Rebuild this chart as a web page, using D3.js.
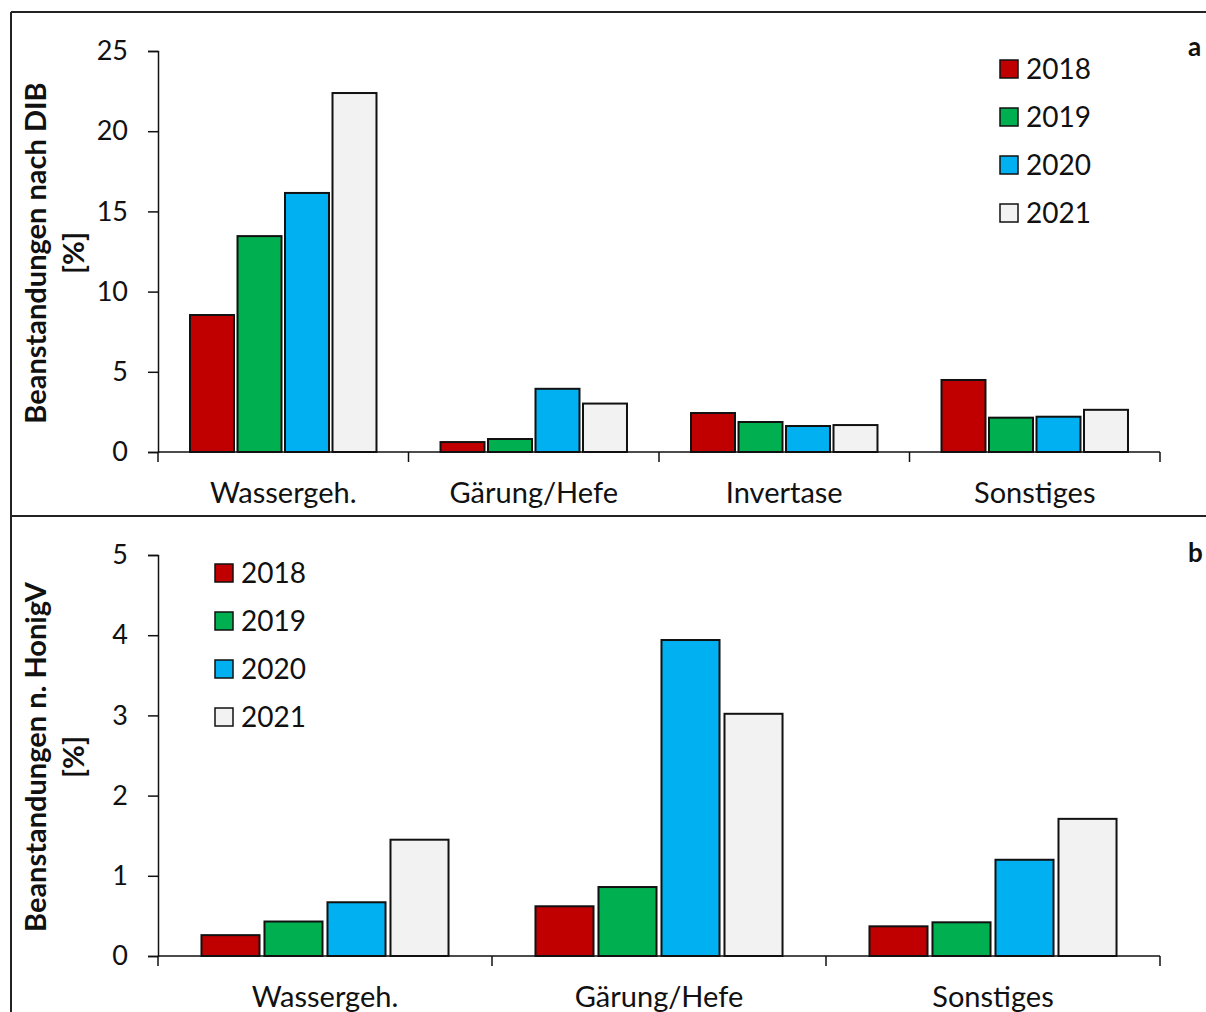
<!DOCTYPE html>
<html>
<head>
<meta charset="utf-8">
<script src="https://cdn.jsdelivr.net/npm/d3@7"></script>
<style>
  body { margin: 0; background: #fff; }
  svg { font-family: Lato, "Open Sans", sans-serif; }
</style>
</head>
<body>
<div id="chart"></div>
<script>
const years = ['2018', '2019', '2020', '2021']
const colors = ['#c00000', '#00b050', '#00b0f0', '#f2f2f2']

// panel a: DIB
const catsA = ['Wassergeh.', 'Gärung/Hefe', 'Invertase', 'Sonstiges']
const valsA = [
    [8.54, 13.46, 16.15, 22.38],
    [0.62, 0.81, 3.94, 3.02],
    [2.43, 1.87, 1.62, 1.68],
    [4.49, 2.14, 2.2, 2.63]
]
const ticksA = [0, 5, 10, 15, 20, 25]

// panel b: HonigV
const catsB = ['Wassergeh.', 'Gärung/Hefe', 'Sonstiges']
const valsB = [
    [0.26, 0.43, 0.67, 1.45],
    [0.62, 0.86, 3.94, 3.02],
    [0.37, 0.42, 1.2, 1.71]
]
const ticksB = [0, 1, 2, 3, 4, 5]

const W = 1206, H = 1012
const svg = d3.select('#chart').append('svg')
    .attr('width', W)
    .attr('height', H)

// frame lines
const frame = svg.append('g').attr('stroke', '#222').attr('stroke-width', 2)
frame.append('line').attr('x1', 11).attr('x2', W).attr('y1', 12).attr('y2', 12)
frame.append('line').attr('x1', 11).attr('x2', 11).attr('y1', 12).attr('y2', H)
frame.append('line').attr('x1', 11).attr('x2', W).attr('y1', 516).attr('y2', 516)

function drawPanel(cfg) {
    const y = d3.scaleLinear().domain([0, cfg.max]).range([cfg.bottom, cfg.top])
    const x = d3.scaleBand().domain(cfg.cats).range([158, 1160])
    const xi = d3.scaleBand().domain(years).range([0, x.bandwidth()])
        .paddingOuter(cfg.outer).paddingInner(cfg.inner)

    const g = svg.append('g')

    // bars
    cfg.cats.forEach((c, ci) => {
        g.selectAll(null)
            .data(cfg.vals[ci])
            .join('rect')
            .attr('x', (d, i) => x(c) + xi(years[i]))
            .attr('y', d => y(d))
            .attr('width', xi.bandwidth())
            .attr('height', d => y(0) - y(d))
            .attr('fill', (d, i) => colors[i])
            .attr('stroke', '#111')
            .attr('stroke-width', 2)
    })

    // y axis
    const yAxis = g.append('g')
        .attr('transform', 'translate(158,0)')
        .call(d3.axisLeft(y).tickValues(cfg.ticks).tickFormat(d3.format('d')).tickSize(10).tickPadding(20))
    yAxis.select('.domain').attr('stroke', '#111').attr('stroke-width', 1.5)
    yAxis.selectAll('.tick line').attr('stroke', '#111').attr('stroke-width', 1.5)
    yAxis.selectAll('.tick text').attr('font-size', 27).attr('fill', '#111')
        .attr('font-family', 'Lato, "Open Sans", sans-serif')

    // x axis with ticks between categories
    const xAxis = g.append('g').attr('transform', `translate(0,${cfg.bottom})`)
    xAxis.append('line').attr('x1', 158).attr('x2', 1160)
        .attr('stroke', '#111').attr('stroke-width', 1.5)
    xAxis.selectAll('.sep')
        .data(cfg.cats.concat(['end']))
        .join('line')
        .attr('x1', (d, i) => 158 + i * x.step())
        .attr('x2', (d, i) => 158 + i * x.step())
        .attr('y1', 0).attr('y2', 10)
        .attr('stroke', '#111').attr('stroke-width', 1.5)
    xAxis.selectAll('.cat')
        .data(cfg.cats)
        .join('text')
        .attr('x', d => x(d) + x.bandwidth() / 2)
        .attr('y', 51)
        .attr('text-anchor', 'middle')
        .attr('font-size', 29)
        .attr('fill', '#111')
        .text(d => d)

    // y title
    const t = g.append('text')
        .attr('transform', `translate(46,${cfg.titleY}) rotate(-90)`)
        .attr('text-anchor', 'middle')
        .attr('font-weight', 'bold')
        .attr('font-size', 29)
        .attr('fill', '#111')
    t.append('tspan').attr('x', 0).attr('dy', 0).text(cfg.title)
    t.append('tspan').attr('x', 0).attr('dy', 38).text('[%]')

    // legend
    const lg = g.append('g').attr('transform', `translate(${cfg.legX},${cfg.legY})`)
    years.forEach((yr, i) => {
        lg.append('rect')
            .attr('x', 0).attr('y', i * 48 - 9)
            .attr('width', 18).attr('height', 18)
            .attr('fill', colors[i])
            .attr('stroke', '#111').attr('stroke-width', 1.5)
        lg.append('text')
            .attr('x', 26).attr('y', i * 48 + 10)
            .attr('font-size', 28).attr('fill', '#111')
            .text(yr)
    })

    // panel letter
    g.append('text')
        .attr('x', 1188).attr('y', cfg.letterY)
        .attr('font-weight', 'bold').attr('font-size', 26)
        .attr('fill', '#111')
        .text(cfg.letter)
}

drawPanel({
    cats: catsA, vals: valsA, ticks: ticksA, max: 25,
    top: 51, bottom: 452, outer: 0.674, inner: 0.074,
    title: 'Beanstandungen nach DIB', titleY: 253,
    legX: 1000, legY: 69, letter: 'a', letterY: 56
})

drawPanel({
    cats: catsB, vals: valsB, ticks: ticksB, max: 5,
    top: 555, bottom: 956, outer: 0.69, inner: 0.079,
    title: 'Beanstandungen n. HonigV', titleY: 757,
    legX: 215, legY: 573, letter: 'b', letterY: 562
})
</script>
</body>
</html>
